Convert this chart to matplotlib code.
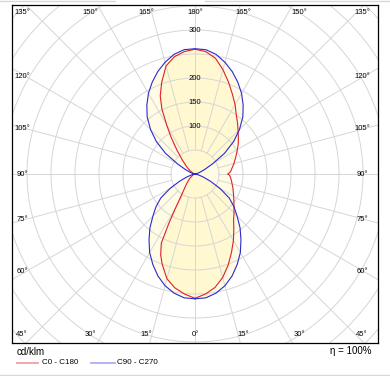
import numpy as np
import matplotlib
matplotlib.use('Agg')
import matplotlib.pyplot as plt
from matplotlib.lines import Line2D

plt.rcParams['font.family'] = ['Liberation Sans', 'DejaVu Sans']

# intensities in cd/klm
# lower half: angle from nadir (0 = straight down), upper half: angle from zenith
# C0 (right side of the diagram)
c0_low_ang = [0, 5, 10, 15, 20, 25, 30, 35, 40, 45, 50, 55, 60, 65, 70, 75, 80, 85, 88, 90]
c0_low_val = [259, 251, 240, 223, 202, 180, 160, 141, 125, 115, 106, 99, 93, 88, 84, 80, 77, 74, 72, 68]
c0_up_ang = [0, 5, 10, 15, 20, 25, 30, 35, 40, 45, 50, 55, 60, 65, 70, 75, 80, 85, 88, 90]
c0_up_val = [260, 256, 245, 225, 204, 184, 167, 150, 138, 127, 118, 110, 102, 95, 89, 84, 79, 75, 72, 68]
# C180 (left side)
c180_low_ang = [0, 5, 10, 15, 20, 23, 26, 28, 30, 34, 40, 45, 50, 55, 60, 70, 80, 90]
c180_low_val = [259, 251, 241, 226, 200, 183, 160, 115, 78, 45, 28, 20, 14, 9, 6, 3, 1, 0]
c180_up_ang = [0, 5, 10, 15, 20, 24, 27, 30, 33, 37, 42, 49, 55, 60, 70, 80, 90]
c180_up_val = [260, 256, 248, 233, 203, 178, 152, 118, 92, 63, 40, 23, 14, 9, 4, 1, 0]
# C90 / C270 (same on both sides)
c90_low_ang = [0, 5, 10, 15, 20, 25, 30, 35, 40, 45, 50, 55, 60, 65, 70, 75, 80, 85, 90]
c90_low_val = [260, 259, 252, 241, 226, 208, 189, 167, 146, 124, 106, 87, 60, 35, 18, 8, 3, 1, 0]
c90_up_ang = [0, 5, 10, 15, 20, 25, 30, 35, 40, 45, 50, 55, 60, 65, 70, 75, 80, 85, 90]
c90_up_val = [261, 260, 253, 241, 227, 211, 194, 175, 155, 131, 105, 75, 42, 22, 12, 6, 3, 1, 0]

ring_labels = [100, 150, 200, 300]
PX = 0.48  # pixels per cd/klm


def half(la, lv, ua, uv, side):
    la, lv, ua, uv = map(np.asarray, (la, lv, ua, uv))
    xl = side * lv * np.sin(np.radians(la))
    yl = -lv * np.cos(np.radians(la))
    xu = side * uv * np.sin(np.radians(ua))
    yu = uv * np.cos(np.radians(ua))
    return np.concatenate([xl, xu[::-1]]), np.concatenate([yl, yu[::-1]])


def curve(right, left):
    xr, yr = half(*right, 1)
    xl, yl = half(*left, -1)
    return np.concatenate([xr, xl[::-1]]), np.concatenate([yr, yl[::-1]])


red_x, red_y = curve((c0_low_ang, c0_low_val, c0_up_ang, c0_up_val),
                     (c180_low_ang, c180_low_val, c180_up_ang, c180_up_val))
blue_x, blue_y = curve((c90_low_ang, c90_low_val, c90_up_ang, c90_up_val),
                       (c90_low_ang, c90_low_val, c90_up_ang, c90_up_val))

fig = plt.figure(figsize=(3.9, 3.76), dpi=100)
ax = fig.add_axes([12 / 390, 33 / 376, 366 / 390, 338 / 376])
ax.set_xlim(-183 / PX, 183 / PX)
ax.set_ylim(-169 / PX, 169 / PX)
ax.set_xticks([])
ax.set_yticks([])
for s in ax.spines.values():
    s.set_linewidth(0.9)

# fills
ax.fill(blue_x, blue_y, color='#fff3a0', alpha=0.28, lw=0, zorder=1)
ax.fill(red_x, red_y, color='#fff3a0', alpha=0.28, lw=0, zorder=1)

# polar grid
t = np.linspace(0, 2 * np.pi, 400)
for r in range(50, 600, 50):
    ax.plot(r * np.cos(t), r * np.sin(t), color='#d6d6d6', lw=0.7, zorder=2)
for a in range(0, 360, 15):
    c, s = np.cos(np.radians(a)), np.sin(np.radians(a))
    ax.plot([50 * c, 900 * c], [50 * s, 900 * s], color='#d6d6d6', lw=0.7, zorder=2)

ax.plot(red_x, red_y, color='#e0202a', lw=0.8, zorder=3)
ax.plot(blue_x, blue_y, color='#2a2ad0', lw=0.8, zorder=3)

for v in ring_labels:
    ax.text(0, v, str(v), fontsize=5.5, ha='center', va='center', zorder=4)

# angle labels round the frame
lab_kw = dict(fontsize=5.5, ha='center', va='center', zorder=4)
for dev in [0, 15, 30, 45]:
    off = 181 * np.tan(np.radians(dev))
    for sx in ([0] if dev == 0 else [-1, 1]):
        o = min(off, 173 if sx < 0 else 167) / PX
        ax.text(sx * o, -161 / PX, '%d°' % dev, **lab_kw)
        ax.text(sx * o, 161 / PX, '%d°' % (180 - dev), **lab_kw)
for g in [60, 75, 90, 105, 120]:
    off = 169 * np.tan(np.radians(g - 90)) / PX
    ax.text(-173 / PX, off, '%d°' % g, **lab_kw)
    ax.text(167 / PX, off, '%d°' % g, **lab_kw)

# footer
def fy(py):
    return 1 - py / 376

fig.text(17 / 390, fy(352), 'cd/klm', fontsize=7, va='center', ha='left')
fig.text(371 / 390, fy(351), 'η = 100%', fontsize=7, va='center', ha='right')
fig.add_artist(Line2D([17 / 390, 38 / 390], [fy(363)] * 2, color='#f2a0a4', lw=1.3))
fig.text(42 / 390, fy(363), 'C0 - C180', fontsize=5.8, va='center', ha='left')
fig.add_artist(Line2D([91 / 390, 115 / 390], [fy(363)] * 2, color='#aeaef0', lw=1.3))
fig.text(117 / 390, fy(363), 'C90 - C270', fontsize=5.8, va='center', ha='left')
fig.add_artist(Line2D([0, 1], [fy(375)] * 2, color='#d8d8d8', lw=1))
fig.add_artist(Line2D([0, 115 / 390], [fy(0.5)] * 2, color='#d8d8d8', lw=1))
fig.add_artist(Line2D([205 / 390, 1], [fy(0.5)] * 2, color='#d8d8d8', lw=1))

fig.savefig('out.png', dpi=100, facecolor='white')
